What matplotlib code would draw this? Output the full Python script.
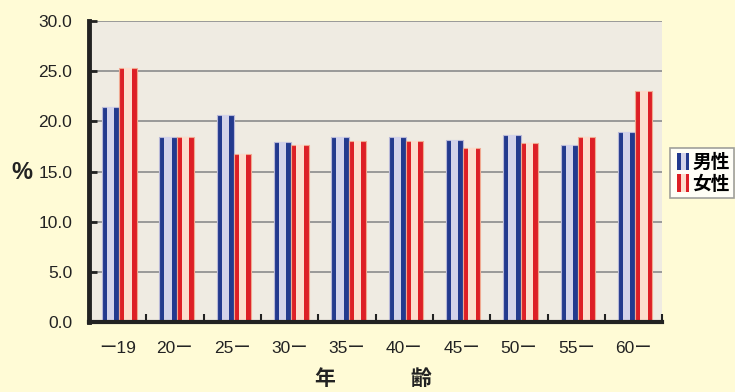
import numpy as np
import matplotlib
matplotlib.use("Agg")
import matplotlib.pyplot as plt
from matplotlib.patches import Rectangle
from matplotlib.legend_handler import HandlerBase

plt.rcParams['font.family'] = ['Liberation Sans', 'Noto Sans CJK JP', 'DejaVu Sans']

age_labels = ["ー19", "20ー", "25ー", "30ー", "35ー", "40ー", "45ー", "50ー", "55ー", "60ー"]
male = [21.4, 18.4, 20.6, 17.9, 18.4, 18.4, 18.1, 18.6, 17.6, 18.9]
female = [25.3, 18.4, 16.7, 17.6, 18.0, 18.0, 17.3, 17.8, 18.4, 23.0]
series_names = ["男性", "女性"]

fig_bg = "#FFFBD6"
plot_bg = "#EFEBE2"
blue_dark, blue_light = "#233A8E", "#D3D3EA"
red_dark, red_light = "#DD1F26", "#FCDDCD"


class StripeHandler(HandlerBase):
    def __init__(self, dark, light):
        super().__init__()
        self.dark, self.light = dark, light

    def create_artists(self, legend, orig_handle, xdescent, ydescent, width, height, fontsize, trans):
        w = height * 0.95
        x0 = -xdescent + width - w
        y0 = -ydescent - 1.5
        h = height + 3
        outer = Rectangle((x0, y0), w, h, facecolor=self.dark, edgecolor="none", transform=trans)
        inner = Rectangle((x0 + w * 0.3, y0), w * 0.4, h, facecolor=self.light, edgecolor="none", transform=trans)
        return [outer, inner]


fig = plt.figure(figsize=(7.35, 3.92), dpi=100, facecolor=fig_bg)
ax = fig.add_axes([0.121, 0.179, 0.780, 0.767])
ax.set_facecolor(plot_bg)

x = np.arange(len(age_labels))
bw = 0.3
off = 0.15
for vals, xs, dark, light, edge in [(male, x - off + 0.03, blue_dark, blue_light, "#B8B8D8"),
                                    (female, x + off + 0.03, red_dark, red_light, "#F0A890")]:
    ax.bar(xs, vals, width=bw, color=dark, edgecolor=edge, linewidth=0.8, zorder=3)
    ax.bar(xs, vals, width=bw * 0.42, color=light, edgecolor="none", zorder=4)

ax.set_xlim(-0.5, len(age_labels) - 0.5)
ax.set_ylim(0, 30)
ax.set_yticks(np.arange(0, 30.1, 5))
ax.set_yticklabels([f"{v:.1f}" for v in np.arange(0, 30.1, 5)], fontsize=12.5, color="#222222")
ax.yaxis.grid(True, color="#999999", linewidth=1.4, zorder=1)
ax.set_axisbelow(True)

ax.set_xticks(x)
ax.set_xticklabels(age_labels, fontsize=12.5, color="#222222")
ax.tick_params(axis='x', which='major', length=0, pad=14)
ax.set_xticks(np.arange(0.5, len(age_labels), 1), minor=True)
ax.tick_params(axis='x', which='minor', direction='in', length=6, width=1.5, color="#222222")
ax.tick_params(axis='y', direction='in', length=6, width=2, color="#222222", pad=12)
for t in ax.xaxis.get_minor_ticks():
    t.tick1line.set_zorder(10)

for side in ["top", "right"]:
    ax.spines[side].set_visible(False)
for side, lw in [("left", 3.5), ("bottom", 3)]:
    ax.spines[side].set_linewidth(lw)
    ax.spines[side].set_color("#222222")
    ax.spines[side].set_zorder(10)

fig.text(0.030, 0.56, "%", fontsize=17, fontweight="bold", ha="center", va="center", color="#222222")
fig.text(0.442, 0.035, "年", fontsize=15, fontweight="bold", ha="center", va="center",
         color="#222222", family=['Noto Sans CJK JP'])
fig.text(0.572, 0.035, "齢", fontsize=15, fontweight="bold", ha="center", va="center",
         color="#222222", family=['Noto Sans CJK JP'])

h_m = Rectangle((0, 0), 1, 1)
h_f = Rectangle((0, 0), 1, 1)
leg = fig.legend([h_m, h_f], series_names, loc="upper left", bbox_to_anchor=(0.911, 0.622),
                 handler_map={h_m: StripeHandler(blue_dark, blue_light), h_f: StripeHandler(red_dark, red_light)},
                 prop={'family': ['Noto Sans CJK JP'], 'weight': 'bold', 'size': 13.5},
                 frameon=True, fancybox=False, borderpad=0.25, handlelength=0.8, handletextpad=0.15,
                 labelspacing=0.15, borderaxespad=0)
leg.get_frame().set_edgecolor("#888888")
leg.get_frame().set_linewidth(1.2)
leg.get_frame().set_facecolor("white")

fig.savefig("out.png", dpi=100, facecolor=fig_bg)
